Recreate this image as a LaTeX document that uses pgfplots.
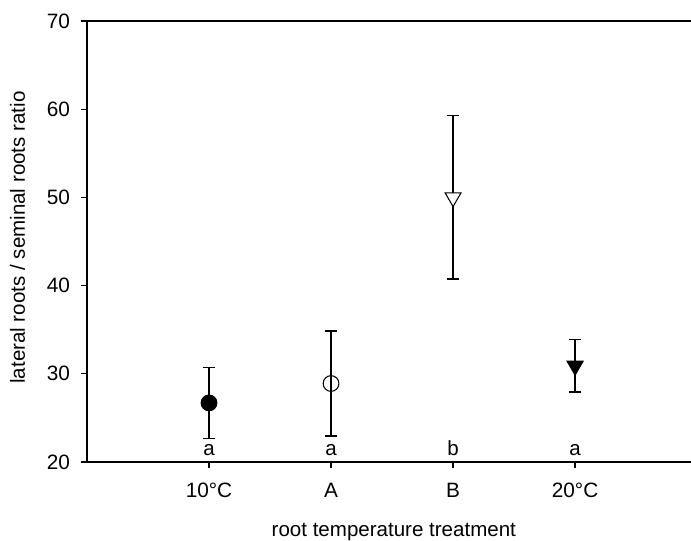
\documentclass[border=0pt]{standalone}
\usepackage{fontspec}
\setmainfont{Liberation Sans}
\usepackage{pgfplots}
\pgfplotsset{compat=1.18}
\begin{document}
\fontsize{15.4}{18}\selectfont
\begin{tikzpicture}
\begin{axis}[
  name=ax,
  scale only axis,
  width=453pt, height=330.75pt,
  xmin=0, xmax=4.95,
  ymin=20, ymax=70,
  axis x line=box, axis y line=left,
  axis line style={-, line width=0.9pt},
  xtick={1,2,3,4},
  xticklabels={10°C, A, B, 20°C},
  ytick={20,30,40,50,60,70},
  tick pos=left,
  tick align=outside,
  major tick length=4.5pt,
  tick style={line width=0.9pt, black},
  /pgf/number format/assume math mode=true,
  tick label style={font=\fontsize{15.6}{18}\selectfont},
  yticklabel style={xshift=-3pt},
  xticklabel style={yshift=-6pt},
  label style={font=\fontsize{15.4}{18}\selectfont},
  xlabel={root temperature treatment},
  ylabel={lateral roots / seminal roots ratio},
  xlabel style={at={(axis description cs:0.508,-0.1678)}, anchor=base},
  ylabel style={at={(axis description cs:-0.1027,0.509)}, anchor=base},
  clip=false,
  error bars/y dir=both,
  error bars/y explicit,
  error bars/error mark options={rotate=90, mark size=4.75pt, line width=0.9pt},
  error bars/error bar style={line width=0.9pt, black},
]
% 10°C
\addplot[only marks, mark=*, mark size=5.9pt, mark options={draw=black, fill=black, line width=0.8pt}]
  coordinates {(1,26.7) +- (0,4.05)};
% A
\addplot[only marks, mark=o, mark size=5.9pt, mark options={draw=black, fill=white, line width=0.8pt}]
  coordinates {(2,28.9) +- (0,5.95)};
% B
\addplot[only marks, mark=triangle*, mark size=6.9pt, mark options={draw=black, fill=white, rotate=180, line width=0.8pt}]
  coordinates {(3,50.0) +- (0,9.25)};
% 20°C
\addplot[only marks, mark=triangle*, mark size=6.9pt, mark options={draw=black, fill=black, rotate=180, line width=0.8pt}]
  coordinates {(4,30.9) +- (0,2.97)};
% significance letters
\addplot[only marks, mark=none, error bars/y dir=none,
  nodes near coords, point meta=explicit symbolic,
  nodes near coords style={anchor=base, yshift=5.25pt, inner sep=0pt, font=\fontsize{15.4}{18}\selectfont}]
  coordinates {(1,20)[a] (2,20)[a] (3,20)[b] (4,20)[a]};
\end{axis}
\pgfresetboundingbox
\path[use as bounding box] ([shift={(-65.25pt,-58.5pt)}]ax.south west) rectangle ([shift={(0pt,15.75pt)}]ax.north east);
\end{tikzpicture}
\end{document}
